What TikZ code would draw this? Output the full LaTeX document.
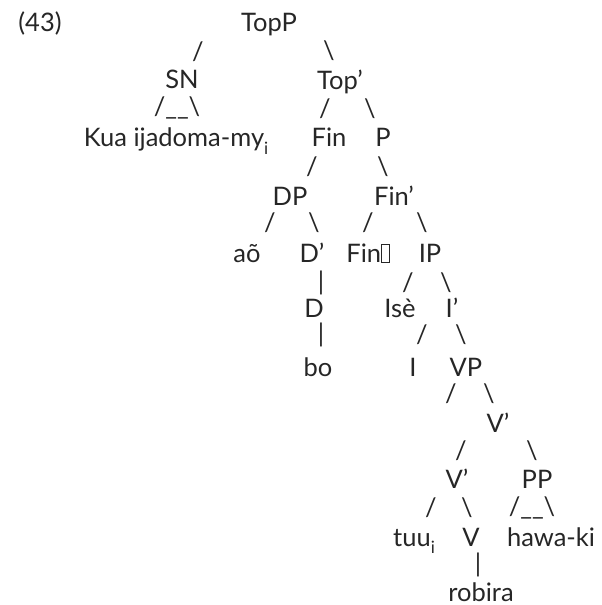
\documentclass[tikz,border=0pt]{standalone}
\usepackage{fontspec}
\setmainfont{Lato}
\newcommand\sbi{\raisebox{-0.28em}{\fontsize{17bp}{17bp}\selectfont i}}
\newcommand\nobox{{\setlength\fboxrule{0.4pt}\setlength\fboxsep{0pt}\fbox{\phantom{\rule{0.3em}{0.68em}}}}}
\begin{document}
\begin{tikzpicture}[x=1bp,y=-1bp,
  lab/.style={inner sep=0pt,anchor=base,font=\fontsize{25.5bp}{28bp}\selectfont,text=black!85},
  br/.style={inner sep=0pt,anchor=center,font=\fontsize{25.5bp}{28bp}\selectfont,text=black!85}]
\useasboundingbox (0,0) rectangle (602,605);
% row 1
\node[lab] (ex) at (40,32) {(43)};
\node[lab] (topp) at (269,32) {TopP};
\node[br] (s1) at (198,52) {/};
\node[br] (s2) at (329,51) {\textbackslash};
% row 2
\node[lab] (sn) at (182,89) {SN};
\node[lab] (topb) at (340,90) {Top’};
\node[br] (s3) at (177,108) {/\_\_\textbackslash};
\node[br] (s4) at (325,109) {/};
\node[br] (s5) at (370,109) {\textbackslash};
% row 3
\node[lab] (kua) at (176,147) {Kua ijadoma-my\sbi};
\node[lab] (fin) at (329,147) {Fin};
\node[lab] (p) at (383,147) {P};
\node[br] (s6) at (312,167) {/};
\node[br] (s7) at (383,167) {\textbackslash};
% row 4
\node[lab] (dp) at (290,205) {DP};
\node[lab] (finb) at (394,205) {Fin’};
\node[br] (s8) at (270,223) {/};
\node[br] (s9) at (314,223) {\textbackslash};
\node[br] (s10) at (368,223) {/};
\node[br] (s11) at (422,223) {\textbackslash};
% row 5
\node[lab] (ao) at (247,262) {aõ};
\node[lab] (db) at (312,262) {D’};
\node[lab] (fin0) at (368,262) {Fin\nobox};
\node[lab] (ip) at (430,262) {IP};
\node[br] (s12) at (321,283) {|};
\node[br] (s13) at (408,283) {/};
\node[br] (s14) at (446,283) {\textbackslash};
% row 6
\node[lab] (d) at (314,317) {D};
\node[lab] (ise) at (400,317) {Isè};
\node[lab] (ib) at (452,317) {I’};
\node[br] (s15) at (321,335) {|};
\node[br] (s16) at (422,335) {/};
\node[br] (s17) at (461,335) {\textbackslash};
% row 7
\node[lab] (bo) at (318,376) {bo};
\node[lab] (i) at (413,376) {I};
\node[lab] (vp) at (466,376) {VP};
\node[br] (s18) at (451,394) {/};
\node[br] (s19) at (489,394) {\textbackslash};
% row 8
\node[lab] (vb1) at (498,432) {V’};
\node[br] (s20) at (461,451) {/};
\node[br] (s21) at (532,451) {\textbackslash};
% row 9
\node[lab] (vb2) at (457,488) {V’};
\node[lab] (pp) at (537,488) {PP};
\node[br] (s22) at (431,508) {/};
\node[br] (s23) at (467,508) {\textbackslash};
\node[br] (s24) at (532,508) {/\_\_\textbackslash};
% row 10
\node[lab] (tuu) at (414,546) {tuu\sbi};
\node[lab] (v) at (471,546) {V};
\node[lab] (hawa) at (551,546) {hawa-ki};
\node[br] (s25) at (478,565) {|};
% row 11
\node[lab] (robira) at (481,601) {robira};
\end{tikzpicture}
\end{document}
